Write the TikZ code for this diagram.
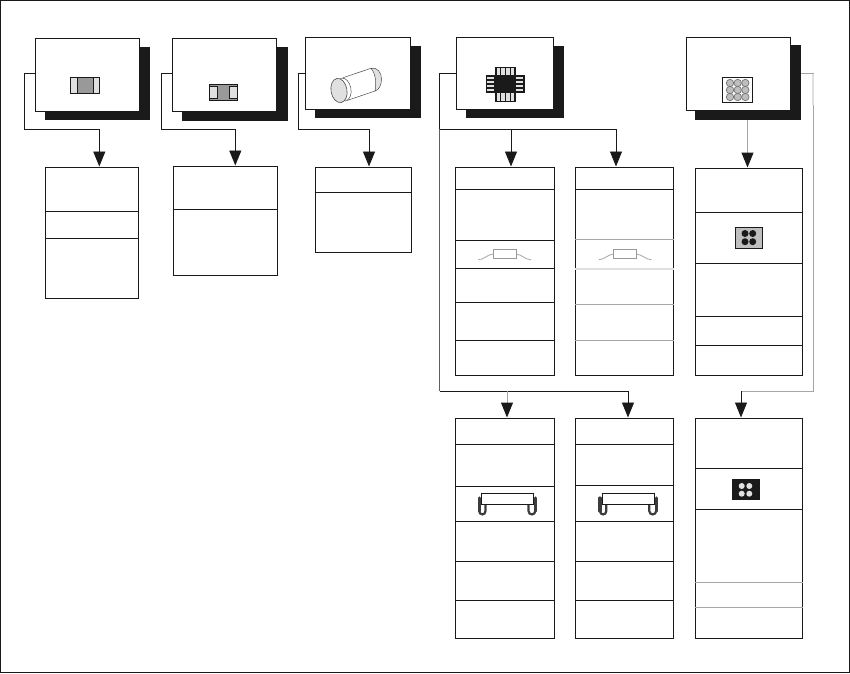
\documentclass[tikz,border=0pt]{standalone}
\usetikzlibrary{arrows.meta,positioning,calc}
\definecolor{ink}{HTML}{1A1A1A}
\definecolor{soft}{HTML}{A6A6A6}
\definecolor{pale}{HTML}{E0E0E0}
\definecolor{mid}{HTML}{999999}
\tikzset{
  card/.style={draw=ink,fill=white,line width=1pt,inner sep=0pt},
  shadowbox/.style={fill=ink,draw=none,inner sep=0pt},
  tablebox/.style={draw=ink,fill=white,line width=1pt,inner sep=0pt},
  rowline/.style={draw=ink,line width=0.9pt},
  softrow/.style={draw=soft,line width=0.9pt},
  flow/.style={draw=ink,line width=0.9pt},
  softflow/.style={draw=soft,line width=1pt},
  tip/.style={-{Triangle[length=15pt,width=12pt,color=ink]}},
  pin/.style={draw=ink,fill=pale,line width=1.2pt},
  lead/.style={draw=ink!85,line cap=round},
}
\begin{document}
\begin{tikzpicture}[x=1pt,y=-1pt]
  \useasboundingbox (0,0) rectangle (850,673);
  \node[draw=ink,line width=1pt,minimum width=849pt,minimum height=672pt,inner sep=0pt] (frame) at (425,336.5) {};
  % header cards with their shadows
  \foreach \nm/\xa/\ya/\xb/\yb/\xc/\yc/\xd/\yd in {
      A/35.3/38.3/139.3/111/45/47/150/120,
      B/172.3/38.3/276.7/111/182/47/288/120.5,
      C/305.3/37.3/410/109.3/315/46/420.7/118,
      D/456.3/37.3/553.3/109.3/466/46/563.7/118,
      E/686.3/37.3/790.7/110.3/695/45/801/120}{
    \node[shadowbox,minimum width={(\xd-\xc)*1pt},minimum height={(\yd-\yc)*1pt}] (shadow\nm) at ({(\xc+\xd)/2},{(\yc+\yd)/2}) {};
    \node[card,minimum width={(\xb-\xa)*1pt},minimum height={(\yb-\ya)*1pt}] (card\nm) at ({(\xa+\xb)/2},{(\ya+\yb)/2}) {};
  }
  % tables
  \foreach \nm/\xa/\ya/\xb/\yb in {
      A/45.3/167/138/298, B/173/166/277/275, C/315/167/411/252,
      D/455.5/167/554.5/375, F/575.5/167/673/375, G/695/168/802/375,
      H/455.5/418/554.5/638, J/575.5/418/673/638, K/695/418/802/638}{
    \node[tablebox,minimum width={(\xb-\xa)*1pt},minimum height={(\yb-\ya)*1pt}] (table\nm) at ({(\xa+\xb)/2},{(\ya+\yb)/2}) {};
  }
  % rows
  \foreach \nm/\ys in {A/{211,238},B/{209},C/{192},D/{189,240.5,268.5,302.5,340},F/{189},
      G/{212,263.5,316.5,345.5},H/{444,486,521,561,600},J/{444,485,521,561,600},K/{468,509}}{
    \foreach \y in \ys
      \draw[rowline] (table\nm.west |- 0,\y) -- (table\nm.east |- 0,\y);
  }
  \foreach \y in {239.5,304,340}
    \draw[softrow] (tableF.west |- 0,\y) -- (tableF.east |- 0,\y);
  \draw[draw=pale,line width=1.2pt] (tableF.west |- 0,269) -- (tableF.east |- 0,269);
  \foreach \y in {582,607}
    \draw[softrow] (tableK.west |- 0,\y) -- (tableK.east |- 0,\y);
  % connectors
  \draw[flow,tip] (cardA.west |- 0,73.3) -- (24.5,73.3) -- (24.5,129.3) -- (99.3,129.3) -- (99.3,0 |- tableA.north);
  \draw[flow,tip] (cardB.west |- 0,73.3) -- (161,73.3) -- (161,129.3) -- (235.3,129.3) -- (235.3,0 |- tableB.north);
  \draw[flow,tip] (cardC.west |- 0,73.3) -- (298,73.3) -- (298,129.3) -- (369,129.3) -- (369,0 |- tableC.north);
  \draw[flow,tip] (cardD.west |- 0,73.3) -- (439.5,73.3) -- (439.5,129.3) -- (511,129.3) -- (511,0 |- tableD.north);
  \draw[flow,tip] (511,129.3) -- (616,129.3) -- (616,0 |- tableF.north);
  \draw[draw=ink!70,line width=0.9pt] (439.5,129.3) -- (439.5,391);
  \draw[flow,tip] (439.5,391) -- (628,391) -- (628,0 |- tableJ.north);
  \draw[softflow,tip] (507,391) -- (507,0 |- tableH.north);
  \draw[softflow,tip] (747.5,0 |- shadowE.south) -- (747.5,0 |- tableG.north);
  \draw[softflow] (shadowE.east |- 0,73.3) -- (813,73.3) -- (813,391) -- (741,391);
  \draw[draw=pale,line width=1.8pt] (813,74) -- (813,105);
  \draw[flow,tip] (741,391) -- (741,0 |- tableK.north);
  % component pictures
  \node[draw=ink,fill=pale,line width=0.8pt,minimum width=29.4pt,minimum height=16pt,inner sep=0pt] (chipA) at (85,85.3) {};
  \node[draw=ink,fill=mid,line width=0.8pt,minimum width=16pt,minimum height=16pt,inner sep=0pt] (chipAmid) at (85.3,85.3) {};
  \node[draw=ink,fill=mid,line width=0.8pt,minimum width=28.4pt,minimum height=16.4pt,inner sep=0pt] (chipB) at (223.5,92.5) {};
  \node[draw=ink,fill=pale,line width=0.8pt,minimum width=8pt,minimum height=11.6pt,inner sep=0pt] (chipBl) at (213.3,92.5) {};
  \node[draw=ink,fill=pale,line width=0.8pt,minimum width=8.4pt,minimum height=11.6pt,inner sep=0pt] (chipBr) at (233.5,92.5) {};
  % cylinder
  \draw[black!70,line width=0.5pt] (343,77.7) -- (371,68.3);
  \draw[black!70,line width=0.5pt] (347,100.5) -- (375,91);
  \draw[black!70,fill=pale,line width=0.5pt] (371,68.3) .. controls (377,67) and (381.5,72) .. (381.5,79) .. controls (381.5,85) and (379,90) .. (375,91) .. controls (376.5,84) and (376,74) .. (371,68.3) -- cycle;
  \draw[black!70,fill=white,line width=0.5pt,rotate around={10:(343.5,89.5)}] (343.5,89.5) ellipse (7.5pt and 11.5pt);
  \draw[black!70,fill=pale,line width=0.6pt,rotate around={10:(339,90.5)}] (339,90.5) ellipse (8pt and 12.2pt);
  % quad chip
  \foreach \x in {496,500.75,505.5,510.25}
    \draw[pin] (\x,67.5) rectangle (\x+4.75,101.7);
  \foreach \y in {76,80,84,88}
    \draw[pin] (486.5,\y) rectangle (524,\y+4);
  \node[fill=ink,minimum width=22pt,minimum height=18.5pt,inner sep=0pt] (chipD) at (505.2,84.2) {};
  % ball grid
  \node[draw=ink,fill=white,line width=0.9pt,minimum width=30.4pt,minimum height=25pt,inner sep=0pt] (gridE) at (737.5,89.8) {};
  \foreach \x in {730,737.7,745.3}
    \foreach \y in {83,90,97}
      \draw[draw=black!55,fill=pale!85!black,line width=0.7pt] (\x,\y) circle (3.7pt);
  % gull wing pictures
  \foreach \xo in {0,120.5} {
    \begin{scope}[shift={(\xo,0)}]
      \draw[draw=soft,line width=0.8pt] (478.3,259.7) .. controls (484,259.7) and (486,255) .. (493.3,254) (516,254) .. controls (523,255) and (525,259.7) .. (531,259.7);
      \draw[draw=mid,fill=white,line width=0.8pt] (493.3,249.3) rectangle (516,258.7);
    \end{scope}
  }
  \foreach \xo in {0,120.8} {
    \begin{scope}[shift={(\xo,0)}]
      \draw[lead,line width=3.2pt] (479.2,498) -- (479.2,511);
      \draw[lead,line width=2.2pt] (479.2,511) .. controls (479.2,515.5) and (485.5,515.5) .. (485.5,511) -- (485.5,505);
      \draw[lead,line width=3.2pt] (535.3,498) -- (535.3,511);
      \draw[lead,line width=2.2pt] (535.3,511) .. controls (535.3,515.5) and (528.5,515.5) .. (528.5,511) -- (528.5,505);
      \draw[draw=ink,fill=white,line width=0.9pt] (481.3,493.3) rectangle (533.7,504);
    \end{scope}
  }
  % pad pictures
  \node[draw=ink,fill=black!25,line width=0.9pt,minimum width=27pt,minimum height=21pt,inner sep=0pt] (padG) at (749,238) {};
  \foreach \x in {745,752.7}
    \foreach \y in {233.5,241.7}
      \fill[ink] (\x,\y) circle (3.5pt);
  \node[fill=ink,minimum width=28pt,minimum height=21pt,inner sep=0pt] (padK) at (746,489.5) {};
  \foreach \x in {741.7,749.3}
    \foreach \y in {486,493.7}
      \fill[pale] (\x,\y) circle (3pt);
\end{tikzpicture}
\end{document}
